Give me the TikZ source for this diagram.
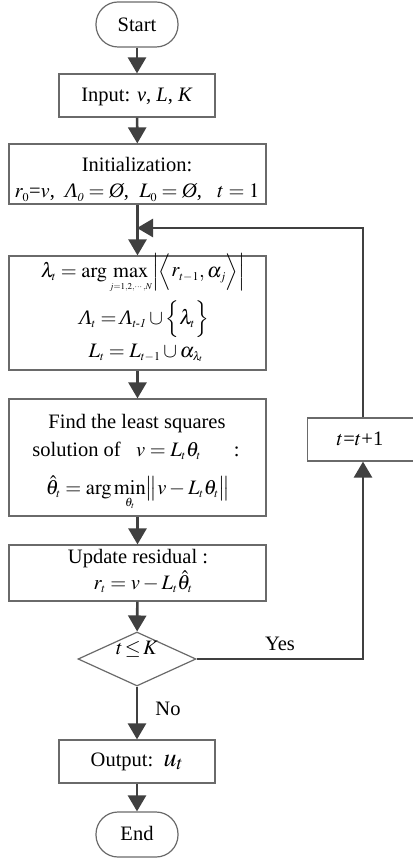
\documentclass[tikz,border=0pt]{standalone}
\usepackage{amsmath,amssymb}
\usepackage{mathptmx}
\usepackage{fontspec}
\setmainfont{Liberation Serif}
\usetikzlibrary{arrows.meta,shapes.geometric}
\DeclareMathSizes{20.5}{20.5}{12}{9}
\definecolor{linec}{HTML}{404040}
\definecolor{boxc}{HTML}{6A6A6A}
\newcommand\ILam{\mbox{\itshape Λ}}
\newcommand\IO{\mbox{\itshape Ø}}
\begin{document}
\begin{tikzpicture}[x=1pt,y=-1pt,
  every node/.style={font=\fontsize{20.5}{24}\selectfont, inner sep=0pt},
  boxn/.style={draw=boxc, line width=1.2pt, rectangle},
  term/.style={draw=boxc, line width=1.2pt, rounded corners=22pt, minimum width=82pt, minimum height=45pt},
  txt/.style={anchor=base},
  flow/.style={draw=linec, line width=2.6pt, -{Triangle[width=18pt,length=16pt]}},
  plain/.style={draw=linec, line width=2.6pt}
]
\useasboundingbox (0,0) rectangle (412,858);
\fill[white] (0,0) rectangle (412,858);
% shapes
\node[term] (start) at (137,24.5) {};
\node[boxn, minimum width=156pt, minimum height=43pt] (input) at (137,95.5) {};
\node[boxn, minimum width=257pt, minimum height=60pt] (init) at (137.5,174) {};
\node[boxn, minimum width=257pt, minimum height=114pt] (b3) at (137.5,313) {};
\node[boxn, minimum width=257pt, minimum height=117pt] (b4) at (137.5,457.5) {};
\node[boxn, minimum width=257pt, minimum height=56pt] (b5) at (137.5,573) {};
\node[draw=boxc, line width=1.2pt, diamond, aspect=2.185, minimum width=118pt, minimum height=54pt] (dec) at (137,659) {};
\node[boxn, minimum width=156pt, minimum height=43pt] (out) at (137,761.5) {};
\node[term] (end) at (137,834.5) {};
\node[boxn, minimum width=111pt, minimum height=43pt] (tb) at (363,439.5) {};
% texts
\node[txt] (tstart) at (137,32) {Start};
\node[txt] (tinput) at (137,102) {Input: \textit{v}, \textit{L}, \textit{K}};
\node[txt] (tinit1) at (137,172) {Initialization:};
\node[txt] (tinit2) at (137,198) {$r_0$=$v$,\ \ \ILam$_{\mathit{0}}=\IO$,\ \ $L_0=\IO$,\ \ \ $t=1$};
\node[txt] (t31) at (143,277) {$\lambda_t=\arg\max\limits_{\scriptscriptstyle j=1,2,\cdots,N}\Bigl|\Bigl\langle r_{t-1},\alpha_j\Bigr\rangle\Bigr|$};
\node[txt] (t32) at (144,324) {\ILam$_t=$\,\ILam$_{\mathit{t}\text{-}\mathit{1}}\cup\Bigl\{\lambda_t\Bigr\}$};
\node[txt] (t33) at (146,357) {$L_t=L_{t-1}\cup\alpha_{\lambda_t}$};
\node[txt] (t41) at (137,428) {Find the least squares};
\node[txt] (t42) at (136,456) {solution of\ \ \ $v=L_t\theta_t$\hspace{1.6em}:};
\node[txt] (t43) at (138,494) {$\hat\theta_t=\arg\min\limits_{\theta_t}\bigl\|v-L_t\theta_t\bigr\|$};
\node[txt] (t51) at (138,563) {Update residual :};
\node[txt] (t52) at (143,589) {$r_t=v-L_t\hat\theta_t$};
\node[txt] (tdec) at (137,654) {$t\!\leq\! K$};
\node[txt] (tyes) at (280,650) {Yes};
\node[txt] (tno) at (168,715) {No};
\node[txt] (tout) at (137,766) {Output:\ \ {\fontsize{26}{28}\selectfont$u_t$}};
\node[txt] (tend) at (137,840) {End};
\node[txt] (ttb) at (360,445) {$t$=$t$+1};
% connectors
\coordinate (j) at (137,228);
\coordinate (r) at (363,659);
\draw[flow] (start) -- (input);
\draw[flow] (input) -- (init);
\draw[flow] (init) -- (b3);
\draw[flow] (b3) -- (b4);
\draw[flow] (b4) -- (b5);
\draw[flow] (b5) -- (dec);
\draw[flow] (dec) -- (out);
\draw[flow] (out) -- (end);
\draw[flow] (dec.east) -- (r) -- (tb.south);
\draw[flow] (tb.north) |- (j);
\end{tikzpicture}
\end{document}
